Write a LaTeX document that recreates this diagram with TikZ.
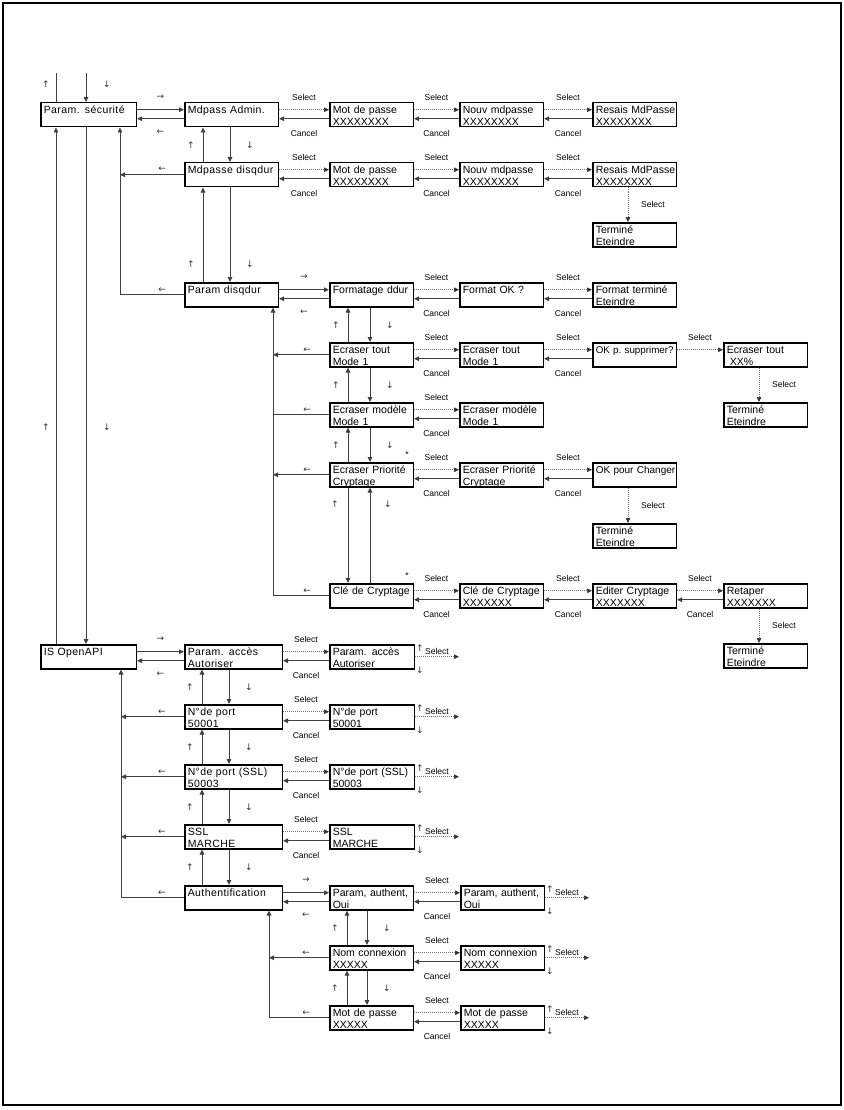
\documentclass[tikz,border=0pt]{standalone}
\usepackage{fontspec}
\setmainfont{Liberation Sans}
\newfontfamily\widefont[LetterSpace=4]{Liberation Sans}
\newfontfamily\arrowfont{DejaVu Sans}
\usetikzlibrary{arrows.meta}

% select / cancel pair between two screens
\newcommand{\selcan}[2]{%
  \draw[sel] ([yshift=5pt]#1.east) -- node[lbl,yshift=12pt]{Select} ([yshift=5pt]#2.west);
  \draw[arr] ([yshift=-4pt]#2.west) -- node[lbl,yshift=-15pt]{Cancel} ([yshift=-4pt]#1.east);}
% forward / back between a menu and its first entry
\newcommand{\fwdbk}[2]{%
  \draw[arr] ([yshift=5pt]#1.east) -- node[glyph,yshift=13pt]{→} ([yshift=5pt]#2.west);
  \draw[arr] ([yshift=-4pt]#2.west) -- node[glyph,yshift=-13pt]{←} ([yshift=-4pt]#1.east);}
% up / down between two stacked entries
\newcommand{\updn}[4]{%
  \draw[arr] ([xshift=#3]#2.north west) -- node[glyph,xshift=-12pt]{↑} ([xshift=#3]#1.south west);
  \draw[arr] ([xshift=#4]#1.south west) -- node[glyph,xshift=20pt]{↓} ([xshift=#4]#2.north west);}
% select stub right of a last screen
\newcommand{\selstub}[1]{%
  \coordinate (#1-end) at ([xshift=44pt]#1.east);
  \draw[sel] (#1.east) -- node[lbl,yshift=5pt]{Select} (#1-end);
  \node[glyph] (#1-up) at ([xshift=5pt,yshift=9pt]#1.east) {↑};
  \node[glyph] (#1-dn) at ([xshift=5pt,yshift=-13pt]#1.east) {↓};}
% select straight down to a closing screen
\newcommand{\seldn}[2]{%
  \draw[sel] ([xshift=36pt]#1.south west) -- node[lbl,xshift=25pt]{Select} ([xshift=36pt]#2.north west);}

\begin{document}
\begin{tikzpicture}[x=1pt,y=-1pt,
  scr/.style={draw,line width=1.5pt,anchor=north west,align=left,text width=#1,
              inner xsep=3pt,inner ysep=0pt,text height=11pt,text depth=13pt,
              font=\fontsize{10.5}{12}\selectfont},
  scr/.default=77.5pt,
  mainscr/.style={scr=#1,font=\widefont\fontsize{10.5}{12}\selectfont},
  arr/.style={draw=black!75,line width=.9pt,-{Triangle[length=5pt,width=4.5pt]}},
  ln/.style={draw=black!75,line width=.9pt},
  sel/.style={draw=black!55,line width=.6pt,dash pattern=on 1pt off 1pt,
              -{Triangle[length=5pt,width=4.5pt,color=black!80]}},
  lbl/.style={font=\fontsize{8.5}{9}\selectfont,inner sep=0pt},
  glyph/.style={font=\arrowfont\fontsize{9}{9}\selectfont,inner sep=0pt,text=black!80}
]
\useasboundingbox (0,0) rectangle (843,1110);
\draw[line width=1.5pt] (3,3) rectangle (841,1105);

% security menu
\node[mainscr=89.5pt] (ps) at (40,102) {Param. sécurité};
\node[mainscr=87.5pt] (ma) at (184,102) {Mdpass Admin.};
\node[mainscr=87.5pt] (md) at (184,162) {\mbox{Mdpasse disqdur}};
\node[mainscr=87.5pt] (pd) at (184,282) {Param disqdur};
\node[scr] (ma1) at (329,102) {Mot de passe\\XXXXXXXX};
\node[scr] (ma2) at (459,102) {Nouv mdpasse\\XXXXXXXX};
\node[scr] (ma3) at (592,102) {\mbox{Resais MdPasse}\\XXXXXXXX};
\node[scr] (md1) at (329,162) {Mot de passe\\XXXXXXXX};
\node[scr] (md2) at (459,162) {Nouv mdpasse\\XXXXXXXX};
\node[scr] (md3) at (592,162) {\mbox{Resais MdPasse}\\XXXXXXXX};
\node[scr] (md4) at (592,222) {Terminé\\Eteindre};
\node[scr] (fd) at (329,282) {\mbox{Formatage ddur}};
\node[scr] (fd2) at (459,282) {Format OK ?};
\node[scr] (fd3) at (592,282) {\mbox{Format terminé}\\Eteindre};
\node[scr] (et) at (329,342) {Ecraser tout\\Mode 1};
\node[scr] (et2) at (459,342) {Ecraser tout\\Mode 1};
\node[scr,font=\fontsize{9.8}{12}\selectfont] (et3) at (592,342) {\mbox{OK p.\ supprimer?}};
\node[scr] (et4) at (723,342) {Ecraser tout\\\hspace*{3pt}XX\%};
\node[scr] (et5) at (723,402) {Terminé\\Eteindre};
\node[scr] (em) at (329,402) {\mbox{Ecraser modèle}\\Mode 1};
\node[scr] (em2) at (459,402) {\mbox{Ecraser modèle}\\Mode 1};
\node[scr] (ep) at (329,462) {\mbox{Ecraser Priorité}\\Cryptage};
\node[scr] (ep2) at (459,462) {\mbox{Ecraser Priorité}\\Cryptage};
\node[scr,font=\fontsize{10}{12}\selectfont] (ep3) at (592,462) {\mbox{OK pour Changer}};
\node[scr] (ep4) at (592,523) {Terminé\\Eteindre};
\node[scr] (cc) at (329,583) {\mbox{Clé de Cryptage}};
\node[scr] (cc2) at (459,583) {\mbox{Clé de Cryptage}\\XXXXXXX};
\node[scr] (cc3) at (592,583) {\mbox{Editer Cryptage}\\XXXXXXX};
\node[scr] (cc4) at (723,583) {Retaper\\XXXXXXX};
\node[scr] (cc5) at (723,643) {Terminé\\Eteindre};
\node[lbl] (epstar) at ([xshift=-7pt,yshift=7pt]ep.north east) {*};
\node[lbl] (ccstar) at ([xshift=-7pt,yshift=7pt]cc.north east) {*};

% OpenAPI menu
\node[mainscr=89.5pt] (api) at (40,644) {IS OpenAPI};
\node[mainscr=91.5pt] (pa) at (184,644) {Param. accès\\Autoriser};
\node[mainscr=91.5pt] (np) at (184,704) {N°de port\\50001};
\node[mainscr=91.5pt] (ns) at (184,764) {\mbox{N°de port (SSL)}\\50003};
\node[mainscr=91.5pt] (ss) at (184,824) {SSL\\MARCHE};
\node[mainscr=91.5pt] (au) at (184,885) {\mbox{Authentification}};
\node[scr=78.5pt] (pa1) at (329,644) {Param. accès\\Autoriser};
\node[scr=78.5pt] (np1) at (329,704) {N°de port\\50001};
\node[scr=78.5pt] (ns1) at (329,764) {\mbox{N°de port (SSL)}\\50003};
\node[scr=78.5pt] (ss1) at (329,824) {SSL\\MARCHE};
\node[scr] (au1) at (329,885) {\mbox{Param, authent,}\\Oui};
\node[scr] (nc) at (329,945) {\mbox{Nom connexion}\\XXXXX};
\node[scr] (mp) at (329,1005) {Mot de passe\\XXXXX};
\node[scr] (au2) at (460,885) {\mbox{Param, authent,}\\Oui};
\node[scr] (nc2) at (460,945) {\mbox{Nom connexion}\\XXXXX};
\node[scr] (mp2) at (460,1005) {Mot de passe\\XXXXX};

% entry from above
\coordinate (topup) at ([xshift=16pt,yshift=29pt]ps.north west);
\coordinate (topdn) at ([xshift=46pt,yshift=29pt]ps.north west);
\draw[ln] ([xshift=16pt]ps.north west) -- node[glyph,pos=.62,xshift=-10pt]{↑} (topup);
\draw[arr] (topdn) -- node[glyph,pos=.38,xshift=21pt]{↓} ([xshift=46pt]ps.north west);
\draw[arr] ([xshift=16pt]api.north west) -- node[glyph,pos=.42,xshift=-10pt]{↑} ([xshift=16pt]ps.south west);
\draw[arr] ([xshift=46pt]ps.south west) -- node[glyph,pos=.58,xshift=21pt]{↓} ([xshift=46pt]api.north west);

% security links
\fwdbk{ps}{ma}
\selcan{ma}{ma1} \selcan{ma1}{ma2} \selcan{ma2}{ma3}
\updn{ma}{md}{19pt}{46pt}
\selcan{md}{md1} \selcan{md1}{md2} \selcan{md2}{md3}
\seldn{md3}{md4}
\draw[arr] ([xshift=19pt]pd.north west) -- node[glyph,pos=.19,xshift=-12pt]{↑} ([xshift=19pt]md.south west);
\draw[arr] ([xshift=46pt]md.south west) -- node[glyph,pos=.81,xshift=20pt]{↓} ([xshift=46pt]pd.north west);
\coordinate (psret) at ([xshift=80pt]ps.south west);
\draw[arr] (md.west) -- node[glyph,pos=.34,yshift=6pt]{←} (md.west -| psret);
\draw[arr] (pd.west) -- node[glyph,pos=.34,yshift=5pt]{←} (pd.west -| psret) -- (psret);

\fwdbk{pd}{fd}
\selcan{fd}{fd2} \selcan{fd2}{fd3}
\updn{fd}{et}{19pt}{41pt}
\selcan{et}{et2} \selcan{et2}{et3}
\draw[sel] ([yshift=5pt]et3.east) -- node[lbl,yshift=12pt]{Select} ([yshift=5pt]et4.west);
\seldn{et4}{et5}
\updn{et}{em}{19pt}{41pt}
\selcan{em}{em2}
\updn{em}{ep}{19pt}{41pt}
\selcan{ep}{ep2} \selcan{ep2}{ep3}
\seldn{ep3}{ep4}
\draw[arr] ([xshift=19pt]ep.south west) -- node[glyph,pos=.17,xshift=-13pt]{↑} ([xshift=19pt]cc.north west);
\draw[arr] ([xshift=41pt]cc.north west) -- node[glyph,pos=.83,xshift=18pt]{↓} ([xshift=41pt]ep.south west);
\selcan{cc}{cc2} \selcan{cc2}{cc3} \selcan{cc3}{cc4}
\seldn{cc4}{cc5}
\coordinate (pdret) at ([xshift=89pt]pd.south west);
\draw[arr] (et.west) -- node[glyph,pos=.39,yshift=5pt]{←} (et.west -| pdret);
\draw[ln] (em.west) -- node[glyph,pos=.39,yshift=5pt]{←} (em.west -| pdret);
\draw[arr] (ep.west) -- node[glyph,pos=.39,yshift=5pt]{←} (ep.west -| pdret);
\draw[arr] (cc.west) -- node[glyph,pos=.39,yshift=5pt]{←} (cc.west -| pdret) -- (pdret);

% OpenAPI links
\fwdbk{api}{pa}
\selcan{pa}{pa1} \selstub{pa1}
\updn{pa}{np}{18pt}{45pt}
\selcan{np}{np1} \selstub{np1}
\updn{np}{ns}{18pt}{45pt}
\selcan{ns}{ns1} \selstub{ns1}
\updn{ns}{ss}{18pt}{45pt}
\selcan{ss}{ss1} \selstub{ss1}
\updn{ss}{au}{18pt}{45pt}
\coordinate (apiret) at ([xshift=81pt]api.south west);
\draw[arr] (np.west) -- node[glyph,pos=.35,yshift=5pt]{←} (np.west -| apiret);
\draw[arr] (ns.west) -- node[glyph,pos=.35,yshift=5pt]{←} (ns.west -| apiret);
\draw[arr] (ss.west) -- node[glyph,pos=.35,yshift=5pt]{←} (ss.west -| apiret);
\draw[arr] (au.west) -- node[glyph,pos=.35,yshift=5pt]{←} (au.west -| apiret) -- (apiret);

\fwdbk{au}{au1}
\selcan{au1}{au2} \selstub{au2}
\updn{au1}{nc}{18pt}{38pt}
\selcan{nc}{nc2} \selstub{nc2}
\updn{nc}{mp}{18pt}{38pt}
\selcan{mp}{mp2} \selstub{mp2}
\coordinate (auret) at ([xshift=85pt]au.south west);
\draw[arr] (nc.west) -- node[glyph,pos=.38,yshift=5pt]{←} (nc.west -| auret);
\draw[arr] (mp.west) -- node[glyph,pos=.38,yshift=5pt]{←} (mp.west -| auret) -- (auret);
\end{tikzpicture}
\end{document}
